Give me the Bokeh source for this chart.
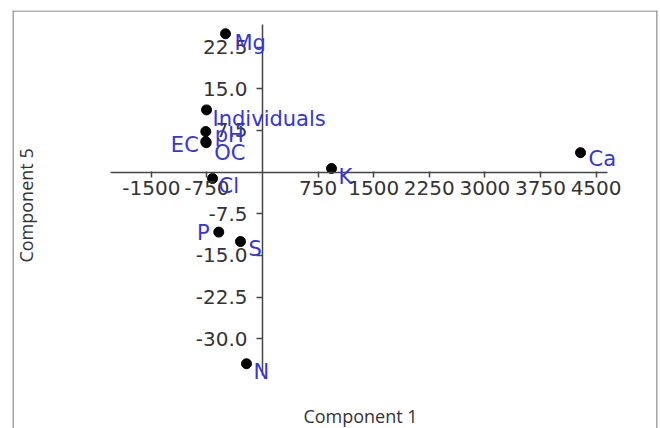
import math
from bokeh.plotting import figure
from bokeh.models import ColumnDataSource, LabelSet, Label, Span, FixedTicker, NumeralTickFormatter, Range1d
from bokeh.core.properties import value
from bokeh.embed import file_html
from bokeh.resources import INLINE

# ---- data ----
names = ["Mg", "Individuals", "pH", "EC", "OC", "Cl", "K", "Ca", "P", "S", "N"]
component1 = [-499, -755, -765, -765, -760, -674, 931, 4290, -590, -297, -216]
component5 = [24.9, 11.2, 7.3, 5.5, 5.3, -1.15, 0.65, 3.5, -10.8, -12.5, -34.5]
x_ticks = [-1500, -750, 750, 1500, 2250, 3000, 3750, 4500]
y_ticks = [-30, -22.5, -15, -7.5, 7.5, 15, 22.5]
x_title = "Component 1"
y_title = "Component 5"

# ---- label placement (layout only) ----
label_dx = {"Mg": 9, "Individuals": 6, "pH": 9, "EC": -7, "OC": 8, "Cl": 6,
            "K": 7, "Ca": 8, "P": -9, "S": 8, "N": 7}
label_dy = {"Mg": -9, "Individuals": -9, "pH": -3, "EC": -3, "OC": -10, "Cl": -7,
            "K": -8, "Ca": -6, "P": -1, "S": -7, "N": -8}
label_align = {n: ("right" if label_dx[n] < 0 else "left") for n in names}

src = ColumnDataSource(dict(
    x=component1, y=component5, name=names,
    dx=[label_dx[n] for n in names],
    dy=[label_dy[n] for n in names],
    align=[label_align[n] for n in names],
))

X0, X1 = -3372.5, 5328.5
Y0, Y1 = -46.15, 29.09

p = figure(width=660, height=428, output_backend="svg", toolbar_location=None,
           x_range=Range1d(X0, X1), y_range=Range1d(Y0, Y1),
           min_border_left=12, min_border_right=3, min_border_top=10, min_border_bottom=0)
p.grid.visible = False
p.outline_line_color = None
p.background_fill_color = "white"
p.border_fill_color = "white"

axis_color = "#454545"
for ax in (p.xaxis[0], p.yaxis[0]):
    ax.fixed_location = 0
    ax.axis_line_color = axis_color
    ax.axis_line_width = 1.5
    ax.major_tick_line_color = axis_color
    ax.major_tick_line_width = 1.5
    ax.minor_tick_line_color = None
    ax.major_label_text_font = "DejaVu Sans"
    ax.major_label_text_font_size = "20px"
    ax.major_label_text_color = "#333333"

p.xaxis.bounds = (-2050, 4650)
p.yaxis.bounds = (-36.6, 26.6)
p.xaxis.ticker = FixedTicker(ticks=x_ticks)
p.yaxis.ticker = FixedTicker(ticks=y_ticks)
p.xaxis.formatter = NumeralTickFormatter(format="0")
p.yaxis.formatter = NumeralTickFormatter(format="0.0")
p.xaxis.major_tick_in = 1
p.xaxis.major_tick_out = 5
p.yaxis.major_tick_in = 0
p.yaxis.major_tick_out = 6
p.xaxis.major_label_standoff = 4
p.yaxis.major_label_standoff = 9

# border (left, right, top)
for loc, dim in ((-3366, "height"), (5322, "height"), (29.0, "width")):
    p.add_layout(Span(location=loc, dimension=dim, line_color="#666666", line_width=1.2))

p.scatter("x", "y", source=src, size=10, color="black")

p.add_layout(LabelSet(x="x", y="y", text="name", source=src,
                      x_offset="dx", y_offset="dy", text_align="align",
                      text_baseline="middle", text_font=value("DejaVu Sans"),
                      text_font_size="21px", text_color="#3636d6"))

p.add_layout(Label(x=1322, y=-43.9, text=x_title, text_align="center",
                   text_baseline="middle", text_font="Open Sans",
                   text_font_size="18px", text_color="#333333"))
p.add_layout(Label(x=-3197, y=-6.0, text=y_title, text_align="center",
                   text_baseline="middle", angle=math.pi / 2, text_font="Open Sans",
                   text_font_size="18px", text_color="#333333"))

open("out.html", "w").write(file_html(p, INLINE))
